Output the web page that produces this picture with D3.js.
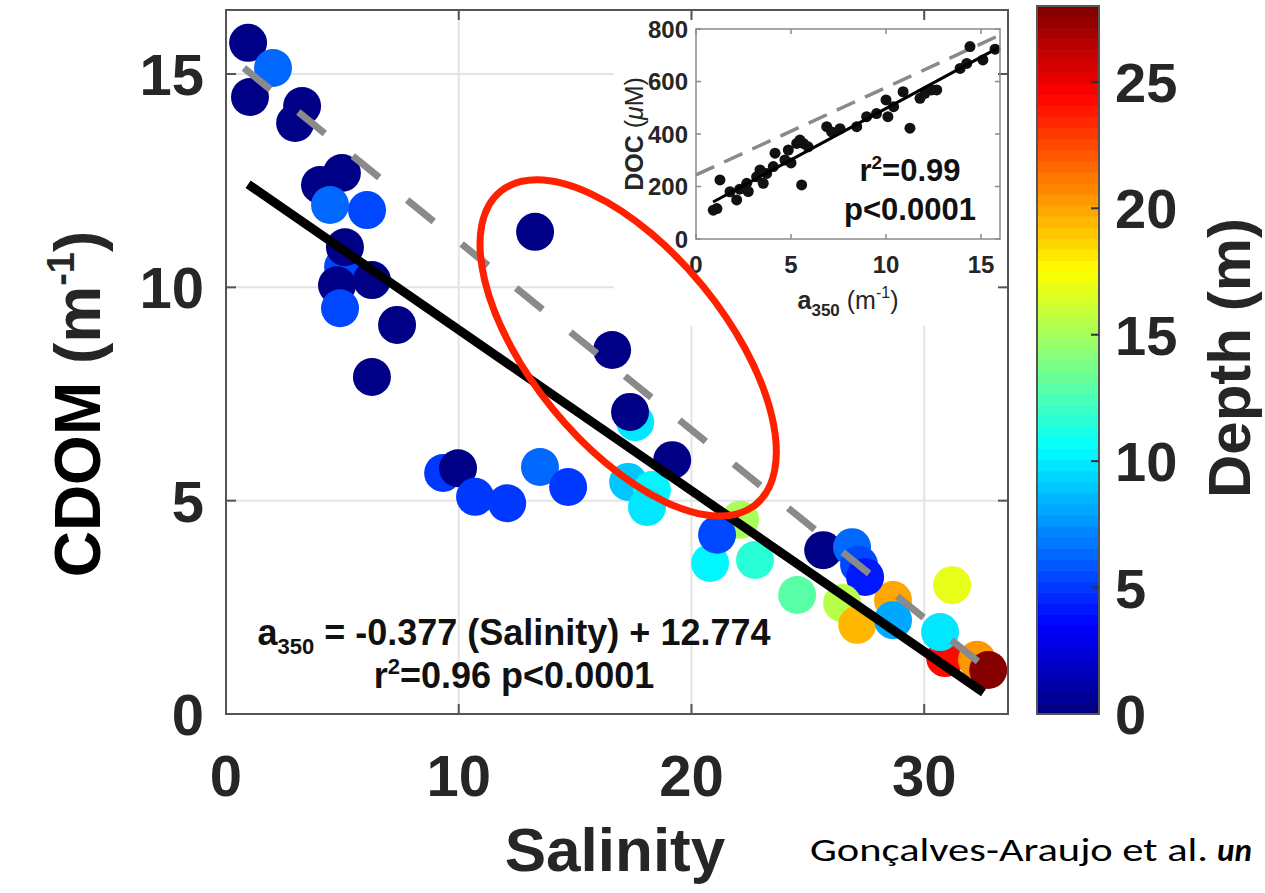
<!DOCTYPE html>
<html><head><meta charset="utf-8">
<script src="https://cdn.jsdelivr.net/npm/d3@7"></script>
<style>html,body{margin:0;padding:0;background:#fff;overflow:hidden}</style>
</head><body>
<svg id="chart" width="1265" height="893"></svg>
<script>
// ---------- DATA ----------
const salinity = [0.95,1.03,2.02,3.27,2.97,4.98,4.04,4.47,6.06,5.03,5.11,4.77,6.27,4.90,7.35,6.27,
  9.33,9.97,10.70,12.08,13.49,14.70,13.28,16.59,17.58,17.36,17.28,18.30,18.09,19.17,
  22.09,20.80,21.10,22.73,24.54,28.66,25.66,26.90,27.20,27.46,26.47,27.12,28.66,
  31.20,30.90,30.68,32.27,32.75];
const cdom = [15.73,14.46,15.14,14.25,13.85,12.68,12.40,11.93,11.81,10.48,10.94,10.05,10.17,9.51,9.12,7.90,
  5.65,5.76,5.09,4.94,5.79,5.32,11.30,8.53,6.84,7.08,5.44,5.25,4.85,5.95,
  4.55,3.54,4.20,3.61,2.79,2.67,3.84,3.91,3.50,3.21,2.60,2.09,2.20,
  3.02,1.31,1.92,1.27,1.03];
const depth = [0,0,6.3,0,0,0,0,6.3,5.4,5.4,0,0,0,5.5,0,0,
  4.9,0,5.0,5.0,6.3,5.0,0,0,10.0,0,9.1,10.3,10.0,0,
  15.3,10.2,5.3,11.4,13.1,19.8,0,6.5,5.3,4.3,15.5,19.6,8.3,
  17.0,24.1,10.0,20.3,28];

const fitSlope = -0.377, fitIntercept = 12.774;
const fitSalinity = [0.95, 32.55];
const mixSalinity = [0.77, 32.92];
const mixCdom = [15.14, 0.96];

const insetA350 = [0.91,1.1,1.26,1.79,2.14,2.3,2.67,2.75,3.19,3.37,3.54,3.72,4.07,4.16,4.68,4.86,5.0,5.3,5.47,5.65,5.9,5.56,
  6.88,7.14,7.58,8.46,8.98,9.5,10.0,10.1,10.4,10.9,11.26,11.79,12.05,12.4,12.67,13.9,14.25,14.42,15.1,15.74];
const insetDOC = [110,116,225,180,149,190,212,181,237,263,212,250,276,327,301,339,290,364,377,364,351,206,
  428,408,420,428,466,478,530,466,504,561,422,536,555,568,568,650,669,733,682,723];
const insetFitA = [0.9, 15.9], insetFitDOC = [141, 728];
const insetRefA = [0, 16], insetRefDOC = [244, 777];

const xTicks = [0,10,20,30], yTicks = [0,5,10,15];
const cbTicks = [0,5,10,15,20,25];
const insetXTicks = [0,5,10,15], insetYTicks = [0,200,400,600,800];
const ellipseCenter = [17.28, 8.58];

// ---------- SETUP ----------
const svg = d3.select('#chart');
const F = "'Liberation Sans', Arial, Helvetica, sans-serif";
const x = d3.scaleLinear().domain([0,33.6]).range([226,1008]);
const y = d3.scaleLinear().domain([0,16.5]).range([714,10]);
const cb = d3.scaleLinear().domain([0,28]).range([714,6]);
const xi = d3.scaleLinear().domain([0,16]).range([696,1000]);
const yi = d3.scaleLinear().domain([0,800]).range([239,29]);

function jet(f){
  const cl = v => Math.max(0, Math.min(1, v));
  return d3.rgb(255*cl(1.5-Math.abs(4*f-3)), 255*cl(1.5-Math.abs(4*f-2)), 255*cl(1.5-Math.abs(4*f-1))).formatHex();
}
function depthColor(d){
  const idx = Math.min(63, Math.floor(d/28*64));
  return jet((idx+0.5)/64);
}

svg.append('rect').attr('width',1265).attr('height',893).attr('fill','#fff');

// gridlines
const grid = svg.append('g').attr('stroke','#e4e4e4').attr('stroke-width',2);
grid.selectAll('.gx').data(xTicks.filter(d=>d>0)).join('line')
  .attr('x1',d=>x(d)).attr('x2',d=>x(d)).attr('y1',y(16.5)).attr('y2',y(0));
grid.selectAll('.gy').data(yTicks.filter(d=>d>0)).join('line')
  .attr('y1',d=>y(d)).attr('y2',d=>y(d)).attr('x1',x(0)).attr('x2',x(33.6));

// points
const pts = salinity.map((s,i)=>({s, a:cdom[i], d:depth[i]}));
svg.append('g').selectAll('circle').data(pts).join('circle')
  .attr('cx',d=>x(d.s)).attr('cy',d=>y(d.a)).attr('r',19)
  .attr('fill',d=>depthColor(d.d));

// mixing dashed line
svg.append('line')
  .attr('x1',x(mixSalinity[0])).attr('y1',y(mixCdom[0]))
  .attr('x2',x(mixSalinity[1])).attr('y2',y(mixCdom[1]))
  .attr('stroke','#8a8a8a').attr('stroke-width',7).attr('stroke-dasharray','34,36');

// fit line
svg.append('line')
  .attr('x1',x(fitSalinity[0])).attr('y1',y(fitIntercept+fitSlope*fitSalinity[0]))
  .attr('x2',x(fitSalinity[1])).attr('y2',y(fitIntercept+fitSlope*fitSalinity[1]))
  .attr('stroke','#000').attr('stroke-width',9);

// inset background
svg.append('rect').attr('x',614).attr('y',18).attr('width',390).attr('height',308).attr('fill','#fff');

// main box + ticks
const ax = svg.append('g').attr('stroke','#555').attr('stroke-width',2).attr('fill','none');
ax.append('rect').attr('x',x(0)).attr('y',y(16.5)).attr('width',x(33.6)-x(0)).attr('height',y(0)-y(16.5));
xTicks.forEach(t=>{
  ax.append('line').attr('x1',x(t)).attr('x2',x(t)).attr('y1',y(0)).attr('y2',y(0)-10);
  ax.append('line').attr('x1',x(t)).attr('x2',x(t)).attr('y1',y(16.5)).attr('y2',y(16.5)+10);
});
yTicks.forEach(t=>{
  ax.append('line').attr('y1',y(t)).attr('y2',y(t)).attr('x1',x(0)).attr('x2',x(0)+10);
  ax.append('line').attr('y1',y(t)).attr('y2',y(t)).attr('x1',x(33.6)).attr('x2',x(33.6)-10);
});

// main tick labels
svg.append('g').selectAll('text').data(xTicks).join('text')
  .attr('x',d=>x(d)).attr('y',796).attr('text-anchor','middle')
  .attr('font-family',F).attr('font-weight','bold').attr('font-size',58).attr('fill','#262626')
  .text(d=>d);
svg.append('g').selectAll('text').data(yTicks).join('text')
  .attr('x',204).attr('y',d=>y(d)).attr('dy','0.36em').attr('text-anchor','end')
  .attr('font-family',F).attr('font-weight','bold').attr('font-size',58).attr('fill','#262626')
  .text(d=>d);

// axis labels
svg.append('text').attr('x',615).attr('y',871).attr('text-anchor','middle')
  .attr('font-family',F).attr('font-weight','bold').attr('font-size',62).attr('fill','#262626')
  .text('Salinity');
const yl = svg.append('text').attr('transform','translate(100,404) rotate(-90)').attr('text-anchor','middle')
  .attr('font-family',F).attr('font-weight','bold').attr('font-size',64).attr('fill','#000');
yl.append('tspan').text('CDOM');
yl.append('tspan').attr('fill','#262626').text(' (m');
yl.append('tspan').attr('font-size',38).attr('dy',-26).attr('fill','#262626').text('-1');
yl.append('tspan').attr('dy',26).attr('fill','#262626').text(')');

// equation
const eq1 = svg.append('text').attr('x',514).attr('y',645).attr('text-anchor','middle')
  .attr('font-family',F).attr('font-weight','bold').attr('font-size',36).attr('fill','#111');
eq1.append('tspan').text('a');
eq1.append('tspan').attr('font-size',22).attr('dy',9).text('350');
eq1.append('tspan').attr('dy',-9).text(' = -0.377 (Salinity) + 12.774');
const eq2 = svg.append('text').attr('x',514).attr('y',688).attr('text-anchor','middle')
  .attr('font-family',F).attr('font-weight','bold').attr('font-size',36).attr('fill','#111');
eq2.append('tspan').text('r');
eq2.append('tspan').attr('font-size',22).attr('dy',-14).text('2');
eq2.append('tspan').attr('dy',14).text('=0.96 p<0.0001');

// ---------- INSET ----------
const ins = svg.append('g');
ins.append('line').attr('x1',xi(insetRefA[0])).attr('y1',yi(insetRefDOC[0]))
  .attr('x2',xi(insetRefA[1])).attr('y2',yi(insetRefDOC[1]))
  .attr('stroke','#8a8a8a').attr('stroke-width',3.5).attr('stroke-dasharray','20,11');
ins.append('g').selectAll('circle').data(insetA350.map((a,i)=>[a,insetDOC[i]])).join('circle')
  .attr('cx',d=>xi(d[0])).attr('cy',d=>yi(d[1])).attr('r',5.5).attr('fill','#111');
ins.append('line').attr('x1',xi(insetFitA[0])).attr('y1',yi(insetFitDOC[0]))
  .attr('x2',xi(insetFitA[1])).attr('y2',yi(insetFitDOC[1]))
  .attr('stroke','#000').attr('stroke-width',3);
const ib = ins.append('g').attr('stroke','#8a8a8a').attr('stroke-width',1.5).attr('fill','none');
ib.append('rect').attr('x',xi(0)).attr('y',yi(800)).attr('width',xi(16)-xi(0)).attr('height',yi(0)-yi(800));
insetXTicks.forEach(t=>{
  ib.append('line').attr('x1',xi(t)).attr('x2',xi(t)).attr('y1',yi(0)).attr('y2',yi(0)-5);
  ib.append('line').attr('x1',xi(t)).attr('x2',xi(t)).attr('y1',yi(800)).attr('y2',yi(800)+5);
});
insetYTicks.forEach(t=>{
  ib.append('line').attr('y1',yi(t)).attr('y2',yi(t)).attr('x1',xi(0)).attr('x2',xi(0)+5);
  ib.append('line').attr('y1',yi(t)).attr('y2',yi(t)).attr('x1',xi(16)).attr('x2',xi(16)-5);
});
ins.append('g').selectAll('text').data(insetXTicks).join('text')
  .attr('x',d=>xi(d)).attr('y',273).attr('text-anchor','middle')
  .attr('font-family',F).attr('font-weight','bold').attr('font-size',24).attr('fill','#262626').text(d=>d);
ins.append('g').selectAll('text').data(insetYTicks).join('text')
  .attr('x',688).attr('y',d=>yi(d)).attr('dy','0.36em').attr('text-anchor','end')
  .attr('font-family',F).attr('font-weight','bold').attr('font-size',24).attr('fill','#262626').text(d=>d);
const ixl = ins.append('text').attr('x',848).attr('y',309).attr('text-anchor','middle')
  .attr('font-family',F).attr('font-size',25).attr('fill','#262626');
ixl.append('tspan').attr('font-weight','bold').text('a');
ixl.append('tspan').attr('font-weight','bold').attr('font-size',17).attr('dy',7).text('350');
ixl.append('tspan').attr('dy',-7).text(' (m');
ixl.append('tspan').attr('font-size',16).attr('dy',-11).text('-1');
ixl.append('tspan').attr('dy',11).text(')');
const iyl = ins.append('text').attr('transform','translate(643,134) rotate(-90)').attr('text-anchor','middle')
  .attr('font-family',F).attr('font-size',25).attr('fill','#262626');
iyl.append('tspan').attr('font-weight','bold').text('DOC');
iyl.append('tspan').text(' (');
iyl.append('tspan').attr('font-style','italic').text('μ');
iyl.append('tspan').text('M)');
ins.append('text').attr('x',910).attr('y',181).attr('text-anchor','middle')
  .attr('font-family',F).attr('font-weight','bold').attr('font-size',31).attr('fill','#111')
  .call(t=>{ t.append('tspan').text('r'); t.append('tspan').attr('font-size',19).attr('dy',-12).text('2'); t.append('tspan').attr('dy',12).text('=0.99'); });
ins.append('text').attr('x',910).attr('y',220).attr('text-anchor','middle')
  .attr('font-family',F).attr('font-weight','bold').attr('font-size',31).attr('fill','#111')
  .text('p<0.0001');

// red ellipse
svg.append('ellipse')
  .attr('transform',`translate(${x(ellipseCenter[0])},${y(ellipseCenter[1])}) rotate(50.8)`)
  .attr('rx',202).attr('ry',97).attr('fill','none').attr('stroke','#ff2000').attr('stroke-width',7);

// ---------- COLORBAR ----------
const cbg = svg.append('g');
const nBands = 64;
cbg.selectAll('rect').data(d3.range(nBands)).join('rect')
  .attr('x',1037).attr('width',62)
  .attr('y',i=>cb((i+1)*28/nBands)).attr('height',i=>cb(i*28/nBands)-cb((i+1)*28/nBands)+0.6)
  .attr('fill',i=>jet((i+0.5)/nBands));
cbg.append('rect').attr('x',1037).attr('y',cb(28)).attr('width',62).attr('height',cb(0)-cb(28))
  .attr('fill','none').attr('stroke','#555').attr('stroke-width',2);
cbg.selectAll('.cbt').data(cbTicks.filter(d=>d>0)).join('line')
  .attr('x1',1099).attr('x2',1091).attr('y1',d=>cb(d)).attr('y2',d=>cb(d))
  .attr('stroke','#333').attr('stroke-width',2);
cbg.selectAll('text').data(cbTicks).join('text')
  .attr('x',1115).attr('y',d=>cb(d)).attr('dy','0.36em')
  .attr('font-family',F).attr('font-weight','bold').attr('font-size',56).attr('fill','#262626').text(d=>d);
svg.append('text').attr('transform','translate(1250,358) rotate(-90)').attr('text-anchor','middle')
  .attr('font-family',F).attr('font-weight','bold').attr('font-size',60).attr('fill','#262626')
  .text('Depth (m)');

// citation
const CF = "Carlito, Calibri, 'Open Sans', 'Noto Sans', sans-serif";
svg.append('text').attr('x',810).attr('y',861)
  .attr('font-family',CF).attr('font-size',33).attr('fill','#000')
  .attr('textLength',398).attr('lengthAdjust','spacingAndGlyphs')
  .text('Gonçalves-Araujo et al.');
svg.append('text').attr('x',1217).attr('y',861)
  .attr('font-family',CF).attr('font-size',33)
  .attr('font-weight','bold').attr('font-style','italic').attr('fill','#000')
  .text('un');
</script>
</body></html>
